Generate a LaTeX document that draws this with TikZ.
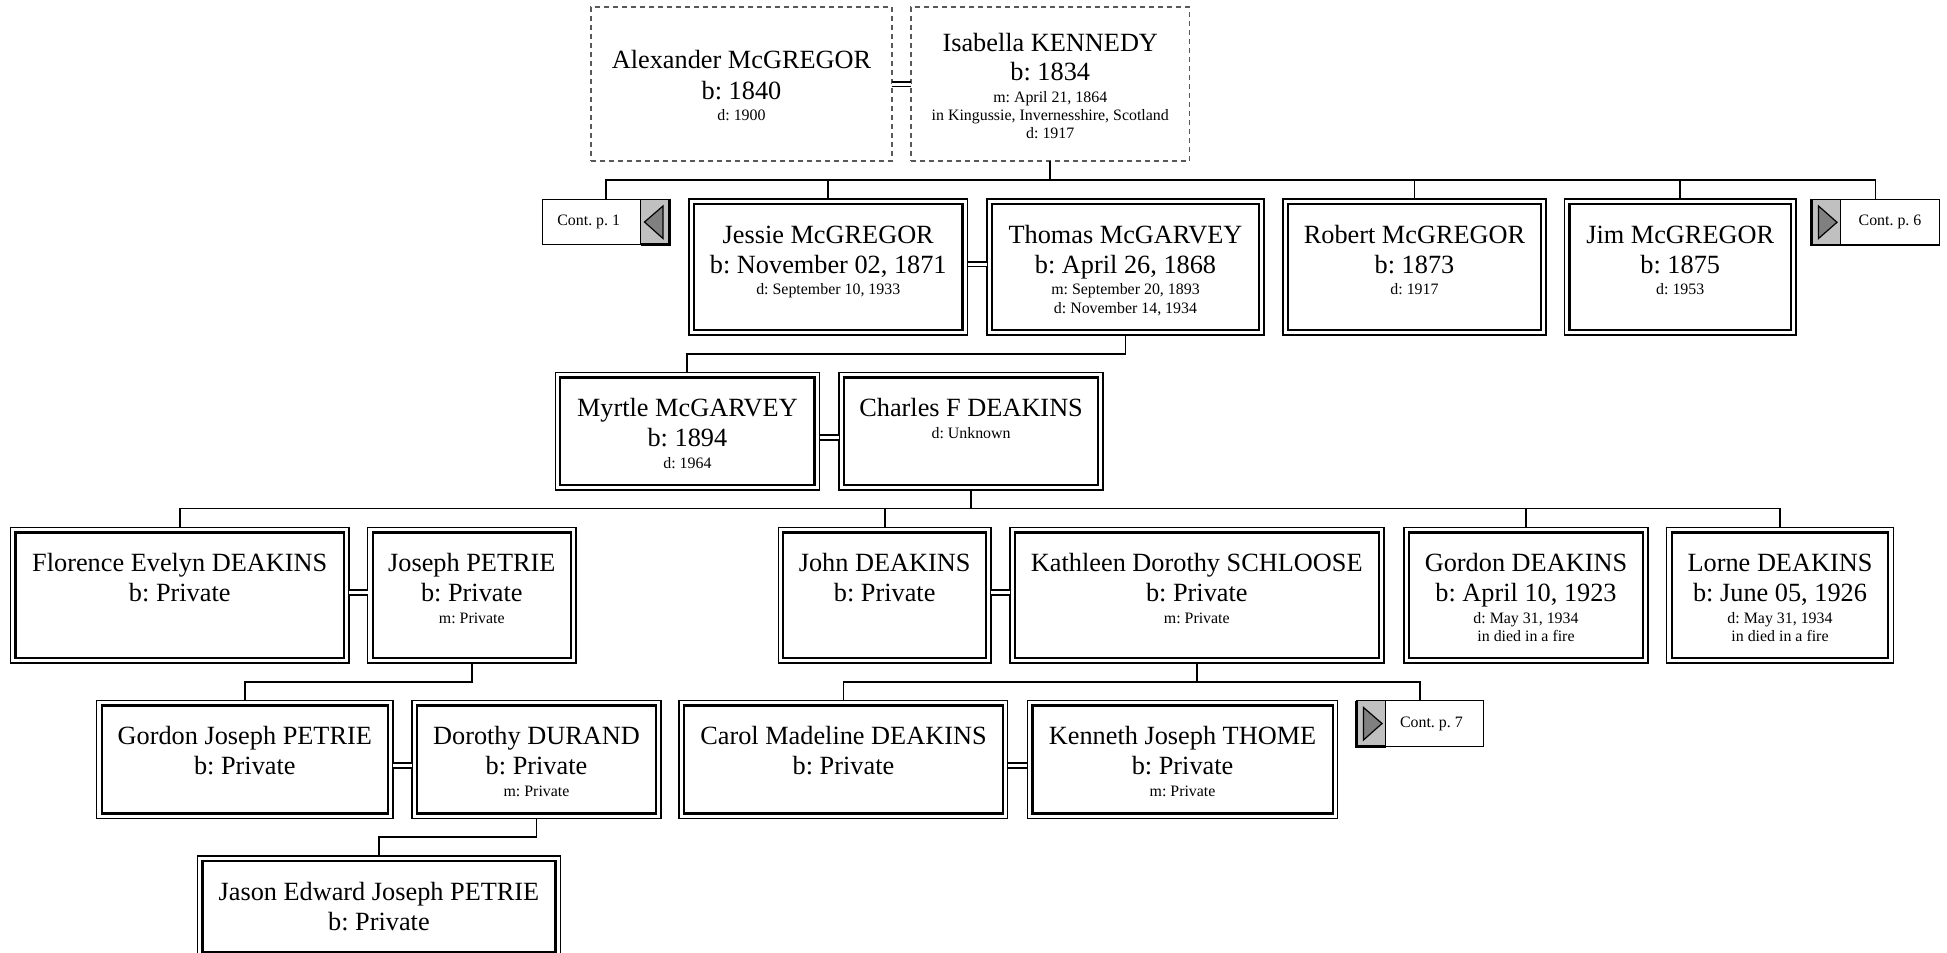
\documentclass[tikz,border=0pt]{standalone}
\usepackage{fontspec}
\setmainfont{Liberation Serif}
\usetikzlibrary{calc}
\frenchspacing
\definecolor{cgray}{HTML}{C0C0C0}
\definecolor{tgray}{HTML}{808080}
\newcommand\mf{\fontsize{26.3pt}{30pt}\selectfont}
\newcommand\smf{\fontsize{15.9pt}{18pt}\selectfont}
\newcommand\LL[2]{\kern#1pt\hbox to 0pt{\hss\smash{#2}\hss}}
\newcommand\Mn[2]{\LL{#1}{\mf #2}}
\newcommand\Sm[2]{\LL{#1}{\smf #2}}
\tikzset{
  pbox/.style={draw, line width=1.5pt, inner sep=0pt, outer sep=0pt, rectangle},
  pinner/.style={line width=2.2pt},
  dbox/.style={draw=black!65, dash pattern=on 5pt off 4pt, line width=1.2pt, inner sep=0pt, outer sep=0pt, rectangle},
  conn/.style={line width=1.9pt},
  marr/.style={double, double distance=3pt, line width=1.7pt},
  cbox/.style={draw, line width=1.4pt, inner sep=0pt, outer sep=0pt, rectangle},
  ctext/.style={font=\smf, inner sep=0pt},
  tri/.style={draw, line width=1.2pt, fill=tgray, line join=miter},
}
\newcommand\person[6]{%
  \pgfmathsetmacro\pwid{#4-#2}%
  \pgfmathsetmacro\phgt{#5-#3}%
  \node[pbox, minimum width=\pwid pt, minimum height=\phgt pt] (#1) at ({(#2+#4)/2},{(#3+#5)/2}) {\vbox to \phgt pt{\offinterlineskip #6\vss}};
  \draw[pinner] ([shift={(5,5)}]#1.north west) rectangle ([shift={(-5,-5)}]#1.south east);
}
\newcommand\dperson[6]{%
  \pgfmathsetmacro\pwid{#4-#2}%
  \pgfmathsetmacro\phgt{#5-#3}%
  \node[dbox, minimum width=\pwid pt, minimum height=\phgt pt] (#1) at ({(#2+#4)/2},{(#3+#5)/2}) {\vbox to \phgt pt{\offinterlineskip #6\vss}};
}
\begin{document}
\begin{tikzpicture}[x=1pt,y=-1pt]
\useasboundingbox (0,0) rectangle (1947,953);
\fill[white] (0,0) rectangle (1947,953);

% ---------- row 0
\dperson{alex}{591}{7}{892}{161}{\Mn{61.5}{Alexander McGREGOR}\Mn{30.5}{b: 1840}\Sm{21}{d: 1900}}
\dperson{isab}{911}{7}{1189.5}{161}{\Mn{44}{Isabella KENNEDY}\Mn{29.5}{b: 1834}\Sm{21.5}{m: April 21, 1864}\Sm{18}{in Kingussie, Invernesshire, Scotland}\Sm{18}{d: 1917}}

% ---------- row 1
\person{jessie}{689}{199}{967.5}{335}{\Mn{44}{Jessie McGREGOR}\Mn{30}{b: November 02, 1871}\Sm{21.5}{d: September 10, 1933}}
\person{thomas}{987}{199}{1264}{335}{\Mn{44}{Thomas McGARVEY}\Mn{30}{b: April 26, 1868}\Sm{21.5}{m: September 20, 1893}\Sm{18.5}{d: November 14, 1934}}
\person{robert}{1283}{199}{1546}{335}{\Mn{44}{Robert McGREGOR}\Mn{30}{b: 1873}\Sm{21.5}{d: 1917}}
\person{jim}{1564.5}{199}{1796}{335}{\Mn{44}{Jim McGREGOR}\Mn{30}{b: 1875}\Sm{21.5}{d: 1953}}

% Cont. p. 1
\fill[cgray] (640.7,199.3) rectangle (669.3,244.5);
\node[cbox, minimum width=126.6pt, minimum height=45.2pt] (c1) at (606,221.9) {};
\draw[line width=1.3pt] (640.7,199.3) -- (640.7,244.5);
\draw[line width=2.8pt] (669.3,199.3) -- (669.3,244.5) -- (640.7,244.5);
\draw[tri] (644.5,222) -- (663,206) -- (663,238.5) -- cycle;
\node[ctext] (c1t) at (588.7,222) {Cont. p. 1};

% Cont. p. 6
\fill[cgray] (1811.7,199.3) rectangle (1840.7,245);
\node[cbox, minimum width=127.6pt, minimum height=45.7pt] (c6) at (1875.5,222.15) {};
\draw[line width=1.3pt] (1840.7,199.3) -- (1840.7,245);
\draw[line width=2.8pt] (1811.7,199.3) -- (1811.7,245) -- (1840.7,245);
\draw[tri] (1837,222.3) -- (1818.5,206) -- (1818.5,238.5) -- cycle;
\node[ctext] (c6t) at (1890,222) {Cont. p. 6};

% ---------- row 2
\person{myrtle}{555.3}{372.5}{819.5}{490}{\Mn{44}{Myrtle McGARVEY}\Mn{30}{b: 1894}\Sm{21.5}{d: 1964}}
\person{charles}{839.2}{372.5}{1103}{490}{\Mn{44}{Charles F DEAKINS}\Sm{22}{d: Unknown}}

% ---------- row 3
\person{florence}{10.5}{527.5}{349}{663}{\Mn{44}{Florence Evelyn DEAKINS}\Mn{30}{b: Private}}
\person{joseph}{367.6}{527.5}{576}{663}{\Mn{44}{Joseph PETRIE}\Mn{30}{b: Private}\Sm{21.5}{m: Private}}
\person{john}{778.3}{527.5}{991}{663}{\Mn{44}{John DEAKINS}\Mn{30}{b: Private}}
\person{kath}{1009.8}{527.5}{1383.8}{663}{\Mn{44}{Kathleen Dorothy SCHLOOSE}\Mn{30}{b: Private}\Sm{21.5}{m: Private}}
\person{gordond}{1404}{527.5}{1648}{663}{\Mn{44}{Gordon DEAKINS}\Mn{30}{b: April 10, 1923}\Sm{21.5}{d: May 31, 1934}\Sm{18.5}{in died in a fire}}
\person{lorne}{1666.7}{527.5}{1893.3}{663}{\Mn{44}{Lorne DEAKINS}\Mn{30}{b: June 05, 1926}\Sm{21.5}{d: May 31, 1934}\Sm{18.5}{in died in a fire}}

% ---------- row 4
\person{gjp}{96.6}{700.5}{393}{818.5}{\Mn{44}{Gordon Joseph PETRIE}\Mn{30}{b: Private}}
\person{dorothy}{412}{700.5}{661}{818.5}{\Mn{44}{Dorothy DURAND}\Mn{30}{b: Private}\Sm{21.5}{m: Private}}
\person{carol}{679.2}{700.5}{1007.7}{818.5}{\Mn{44}{Carol Madeline DEAKINS}\Mn{30}{b: Private}}
\person{kenneth}{1027.4}{700.5}{1337.7}{818.5}{\Mn{44}{Kenneth Joseph THOME}\Mn{30}{b: Private}\Sm{21.5}{m: Private}}

% Cont. p. 7
\fill[cgray] (1356.7,700.5) rectangle (1385.5,746.5);
\node[cbox, minimum width=126.6pt, minimum height=46pt] (c7) at (1420,723.5) {};
\draw[line width=1.3pt] (1385.5,700.5) -- (1385.5,746.5);
\draw[line width=2.8pt] (1356.7,700.5) -- (1356.7,746.5) -- (1385.5,746.5);
\draw[tri] (1382,723.5) -- (1363.5,707.5) -- (1363.5,740) -- cycle;
\node[ctext] (c7t) at (1431.4,723.5) {Cont. p. 7};

% ---------- row 5
\person{jason}{197.4}{856}{560.5}{957}{\Mn{44}{Jason Edward Joseph PETRIE}\Mn{30}{b: Private}}

% ---------- bus coordinates
\coordinate (bus1) at (0,180);
\coordinate (bus2) at (0,354);
\coordinate (bus3) at (0,508.5);
\coordinate (bus4) at (0,681.7);
\coordinate (bus5) at (0,837.3);

% ---------- parent-child connectors
\draw[conn] (isab.south) -- (isab.south |- bus1);
\draw[conn] (c1.north) -- (c1.north |- bus1) -- (c6.north |- bus1) -- (c6.north);
\draw[conn] (jessie.north) -- (jessie.north |- bus1);
\draw[conn] (robert.north) -- (robert.north |- bus1);
\draw[conn] (jim.north) -- (jim.north |- bus1);

\draw[conn] (thomas.south) -- (thomas.south |- bus2) -- (myrtle.north |- bus2) -- (myrtle.north);

\draw[conn] (charles.south) -- (charles.south |- bus3);
\draw[conn] (florence.north) -- (florence.north |- bus3) -- (lorne.north |- bus3) -- (lorne.north);
\draw[conn] (john.north) -- (john.north |- bus3);
\draw[conn] (gordond.north) -- (gordond.north |- bus3);

\draw[conn] (joseph.south) -- (joseph.south |- bus4) -- (gjp.north |- bus4) -- (gjp.north);
\draw[conn] (kath.south) -- (kath.south |- bus4);
\draw[conn] (carol.north) -- (carol.north |- bus4) -- (c7.north |- bus4) -- (c7.north);

\draw[conn] (dorothy.south) -- (dorothy.south |- bus5) -- (jason.north |- bus5) -- (jason.north);

% ---------- marriage connectors
\draw[marr] (alex.east) -- (isab.west);
\draw[marr] ($(jessie.north east)+(0,65)$) -- ($(thomas.north west)+(0,65)$);
\draw[marr] ($(myrtle.north east)+(0,65)$) -- ($(charles.north west)+(0,65)$);
\draw[marr] ($(florence.north east)+(0,65)$) -- ($(joseph.north west)+(0,65)$);
\draw[marr] ($(john.north east)+(0,65)$) -- ($(kath.north west)+(0,65)$);
\draw[marr] ($(gjp.north east)+(0,65)$) -- ($(dorothy.north west)+(0,65)$);
\draw[marr] ($(carol.north east)+(0,65)$) -- ($(kenneth.north west)+(0,65)$);
\end{tikzpicture}
\end{document}
